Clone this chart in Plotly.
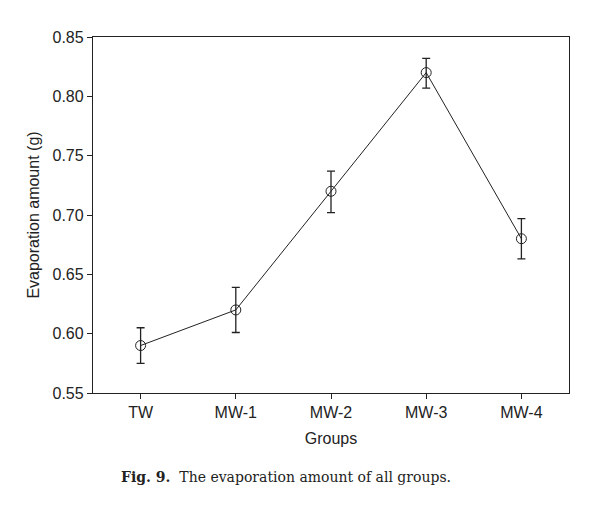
import plotly.graph_objects as go

groups = ["TW", "MW-1", "MW-2", "MW-3", "MW-4"]
evaporation = [0.59, 0.62, 0.72, 0.82, 0.68]
err_plus = [0.015, 0.019, 0.017, 0.012, 0.017]
err_minus = [0.015, 0.019, 0.018, 0.013, 0.017]

fig = go.Figure(go.Scatter(
    x=groups,
    y=evaporation,
    mode="lines+markers",
    line=dict(color="#222222", width=1),
    marker=dict(symbol="circle-open", size=10, color="#222222", line=dict(width=1)),
    error_y=dict(type="data", symmetric=False, array=err_plus, arrayminus=err_minus,
                 color="#222222", thickness=1.3, width=4),
    showlegend=False,
))

axis_font = dict(family="Liberation Sans, Arial", size=16, color="#222222")

fig.update_layout(
    width=602, height=511,
    margin=dict(l=85, r=41, t=29, b=126),
    plot_bgcolor="white", paper_bgcolor="white",
    font=axis_font,
    xaxis=dict(
        title=dict(text="Groups", font=dict(size=16), standoff=12),
        range=[-0.5, 4.5], showline=True, linecolor="#222222", linewidth=1.3,
        mirror=True, ticks="outside", ticklen=5, tickcolor="#222222",
        showgrid=False, zeroline=False,
    ),
    yaxis=dict(
        title=dict(text="Evaporation amount (g)", font=dict(size=16), standoff=8),
        range=[0.55, 0.85], dtick=0.05, tickformat=".2f",
        showline=True, linecolor="#222222", linewidth=1.3,
        mirror=True, ticks="outside", ticklen=5, tickcolor="#222222",
        showgrid=False, zeroline=False,
    ),
    annotations=[dict(
        text="<b>Fig. 9.</b>  The evaporation amount of all groups.",
        xref="paper", yref="paper", x=0.405, y=-0.236, xanchor="center", yanchor="middle",
        showarrow=False, font=dict(family="DejaVu Serif", size=14, color="#222222"),
    )],
)

fig.write_html("out.html")
